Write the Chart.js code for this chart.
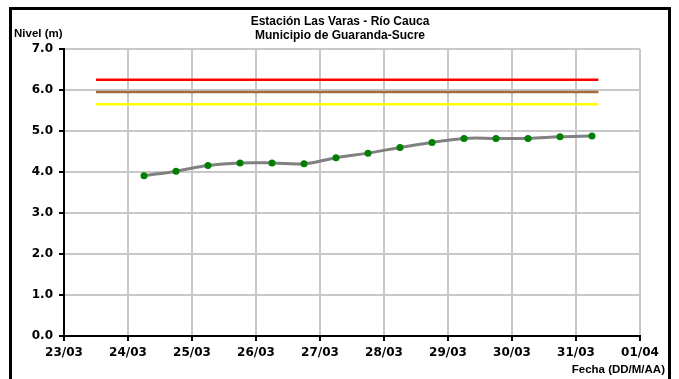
<!DOCTYPE html>
<html>
<head>
<meta charset="utf-8">
<script src="https://cdn.jsdelivr.net/npm/chart.js@4/dist/chart.umd.min.js"></script>
<style>
  html, body { margin: 0; padding: 0; background: #fff; overflow: hidden; }
  #wrap { position: relative; width: 679px; height: 379px; }
  #frame { position: absolute; left: 9px; top: 7px; width: 662px; height: 400px; border: 3px solid #000; box-sizing: border-box; pointer-events: none; }
  canvas { position: absolute; left: 0; top: 0; }
</style>
</head>
<body>
<div id="wrap">
  <canvas id="nivelChart" width="679" height="379"></canvas>
  <div id="frame"></div>
</div>
<script>
// Estación Las Varas - Río Cauca, nivel del río

// tick labels del eje x (una por día)
const diasEje = ['23/03', '24/03', '25/03', '26/03', '27/03', '28/03', '29/03', '30/03', '31/03', '01/04'];

// lecturas cada 12 horas (06:00 y 18:00)
const fechas = [
  '24/03 06:00', '24/03 18:00', '25/03 06:00', '25/03 18:00',
  '26/03 06:00', '26/03 18:00', '27/03 06:00', '27/03 18:00',
  '28/03 06:00', '28/03 18:00', '29/03 06:00', '29/03 18:00',
  '30/03 06:00', '30/03 18:00', '31/03 06:00'
];
const niveles = [3.91, 4.02, 4.16, 4.22, 4.22, 4.20, 4.35, 4.46, 4.60, 4.72, 4.82, 4.82, 4.82, 4.86, 4.88];

// niveles de alerta
const alertaInicio = '23/03 12:00';
const alertaFin = '31/03 08:24';
const alertaRoja = 6.25;
const alertaNaranja = 5.95;
const alertaAmarilla = 5.65;

const yTicks = [0, 1, 2, 3, 4, 5, 6, 7];

// convierte 'DD/MM HH:MM' en días desde 23/03 00:00
function aDias(f) {
  const [fecha, hora] = f.split(' ');
  const [d, m] = fecha.split('/').map(Number);
  const [h, mi] = (hora || '00:00').split(':').map(Number);
  const base = m === 3 ? d - 23 : d + 8; // marzo tiene 31 días
  return base + (h + mi / 60) / 24;
}

function lineaAlerta(valor, color) {
  return {
    data: [{ x: aDias(alertaInicio), y: valor }, { x: aDias(alertaFin), y: valor }],
    borderColor: color,
    borderWidth: 2.5,
    pointRadius: 0,
    tension: 0
  };
}

const tickFont = { family: 'DejaVu Sans', size: 12, weight: 'bold' };

// títulos dibujados a mano para ubicarlos como en el original
const textos = {
  id: 'textos',
  afterDraw(chart) {
    const ctx = chart.ctx;
    ctx.save();
    ctx.fillStyle = '#000';
    ctx.textBaseline = 'middle';
    ctx.textAlign = 'center';
    ctx.font = 'bold 12px "Liberation Sans", Arial, sans-serif';
    ctx.fillText('Estación Las Varas - Río Cauca', 340, 22);
    ctx.fillText('Municipio de Guaranda-Sucre', 340, 36);
    ctx.font = 'bold 11.5px "Liberation Sans", Arial, sans-serif';
    ctx.textAlign = 'left';
    ctx.fillText('Nivel (m)', 14, 34);
    ctx.textAlign = 'right';
    ctx.fillText('Fecha (DD/M/AA)', 665, 370);
    ctx.restore();
  }
};

new Chart(document.getElementById('nivelChart'), {
  type: 'line',
  data: {
    datasets: [
      lineaAlerta(alertaRoja, '#ff0000'),
      lineaAlerta(alertaNaranja, '#a56a3c'),
      lineaAlerta(alertaAmarilla, '#ffff00'),
      {
        data: fechas.map((f, i) => ({ x: aDias(f), y: niveles[i] })),
        borderColor: '#808080',
        borderWidth: 3,
        tension: 0.4,
        pointRadius: 3.5,
        pointBackgroundColor: '#008000',
        pointBorderColor: '#008000',
        pointBorderWidth: 0
      }
    ]
  },
  options: {
    responsive: false,
    animation: false,
    layout: { padding: { top: 49, right: 39, left: 0, bottom: 0 } },
    plugins: {
      legend: { display: false },
      tooltip: { enabled: false }
    },
    scales: {
      x: {
        type: 'linear',
        min: 0,
        max: diasEje.length - 1,
        afterFit: s => { s.height = 43; },
        afterBuildTicks: s => { s.ticks = diasEje.map((_, i) => ({ value: i })); },
        ticks: {
          color: '#000',
          font: tickFont,
          padding: 5,
          maxRotation: 0,
          autoSkip: false,
          callback: v => diasEje[v]
        },
        grid: { color: '#c8c8c8', lineWidth: 2, tickLength: 5, tickColor: '#000', tickWidth: 2 },
        border: { color: '#000', width: 2 }
      },
      y: {
        min: 0,
        max: 7,
        afterFit: s => { s.width = 64; },
        afterBuildTicks: s => { s.ticks = yTicks.map(v => ({ value: v })); },
        ticks: {
          color: '#000',
          font: tickFont,
          padding: 6,
          callback: v => v.toFixed(1)
        },
        grid: { color: '#c8c8c8', lineWidth: 2, tickLength: 5, tickColor: '#000', tickWidth: 2 },
        border: { color: '#000', width: 2 }
      }
    }
  },
  plugins: [textos]
});
</script>
</body>
</html>
